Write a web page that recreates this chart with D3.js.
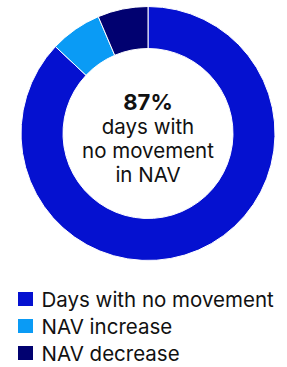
<!DOCTYPE html>
<html>
<head>
<meta charset="utf-8">
<script src="https://cdn.jsdelivr.net/npm/d3@7"></script>
<style>
  body { margin: 0; background: #fff; }
  svg { display: block; font-family: Inter, "Noto Sans", sans-serif; }
</style>
</head>
<body>
<svg id="chart"></svg>
<script>
const width = 287;
const height = 367;

// data
const categories = ['Days with no movement', 'NAV increase', 'NAV decrease'];
const values = [87, 6.6, 6.4];
const colors = ['#0511D0', '#0A9BF5', '#010170'];
const centerLines = ['days with', 'no movement', 'in NAV'];
const headline = '87%';

const cx = 148, cy = 133.5;
const outerR = 127, innerR = 85;

const svg = d3.select('#chart')
    .attr('width', width)
    .attr('height', height);

const color = d3.scaleOrdinal().domain(categories).range(colors);

const pie = d3.pie().sort(null).value(d => d.value);
const arc = d3.arc().innerRadius(innerR).outerRadius(outerR);

const data = categories.map((c, i) => ({ name: c, value: values[i] }));

const g = svg.append('g').attr('transform', `translate(${cx},${cy})`);

g.selectAll('path').data(pie(data))
    .enter().append('path')
    .attr('d', arc)
    .attr('fill', d => color(d.data.name))
    .attr('stroke', '#fff')
    .attr('stroke-width', 1);

g.append('text')
    .attr('text-anchor', 'middle')
    .attr('y', -23.5)
    .attr('font-size', 22)
    .attr('font-weight', 700)
    .attr('fill', '#111')
    .text(headline);

g.selectAll('.line').data(centerLines)
    .enter().append('text')
    .attr('class', 'line')
    .attr('text-anchor', 'middle')
    .attr('y', (d, i) => 0.5 + i * 24)
    .attr('font-size', 20.5)
    .attr('fill', '#111')
    .text(d => d);

// legend
const legend = svg.append('g').attr('transform', 'translate(18,292)');
const row = legend.selectAll('g').data(categories)
    .enter().append('g')
    .attr('transform', (d, i) => `translate(0,${i * 27})`);

row.append('rect')
    .attr('width', 15)
    .attr('height', 14)
    .attr('fill', d => color(d));

row.append('text')
    .attr('x', 23.5)
    .attr('y', 14.5)
    .attr('font-size', 20.5)
    .attr('fill', '#111')
    .text(d => d);
</script>
</body>
</html>
